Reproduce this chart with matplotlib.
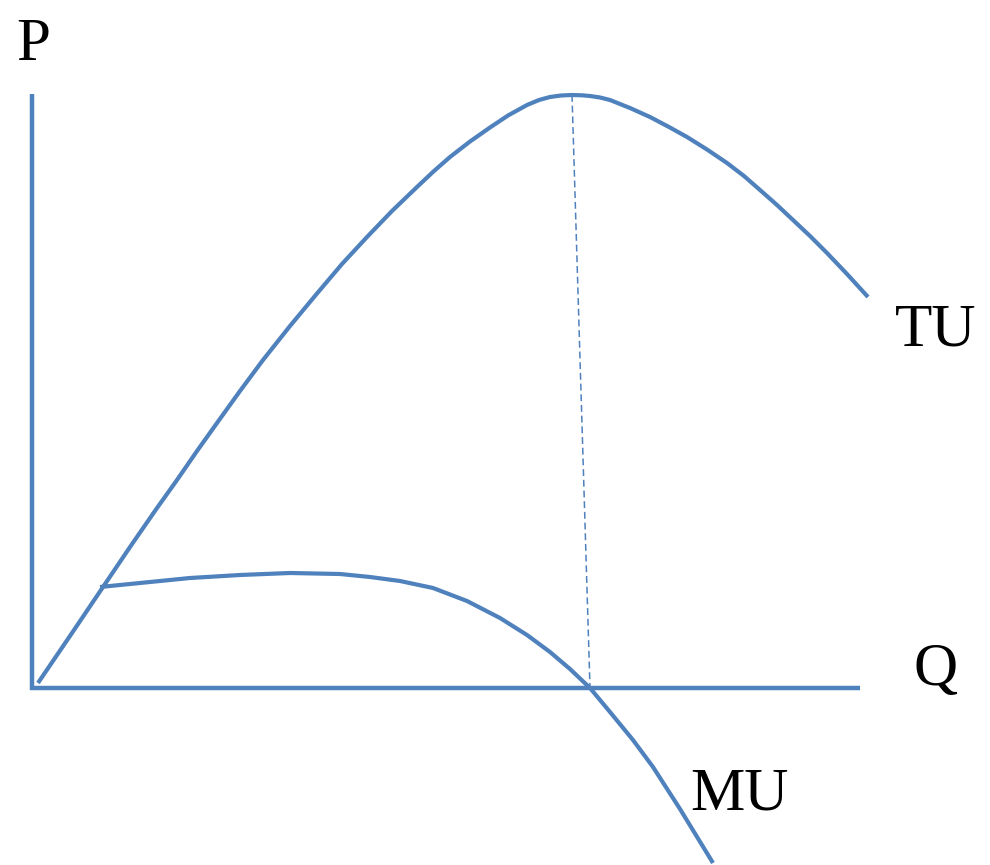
import numpy as np
import matplotlib.pyplot as plt

# total utility curve, (quantity, utility) in pixel-sized units from the origin
tu_q = [6, 40, 71, 98, 125, 145, 165, 185, 208, 231, 258, 285, 310, 335,
        360, 385, 402, 418, 438, 458, 476, 495, 507, 518, 529, 540, 550,
        558, 568, 578, 598, 618, 637, 655, 675, 695, 712, 728, 745, 761,
        778, 795, 815, 836]
tu_u = [5, 55, 101, 141, 180, 208, 237, 265, 297, 328, 362, 394.5, 424, 451,
        477, 501, 517, 531, 546.5, 560.5, 572.5, 583, 588, 591, 592.5, 593,
        592.7, 592, 590.5, 588, 580, 571, 561, 551, 538.5, 525, 512, 498,
        483, 468, 452, 435, 414, 391]

# marginal utility curve
mu_q = [68, 118, 158, 208, 258, 308, 338, 368, 401, 435, 468, 495, 518,
        538, 558, 578, 601, 621, 648, 681]
mu_u = [101, 106, 110, 113, 115, 114, 111, 107, 100, 87, 70, 53, 36,
        19, 0, -24, -52, -79, -121, -175]

# axis extents
q_axis_end = 828
u_axis_top = 594

blue = '#4F81BD'

fig = plt.figure(figsize=(9.9, 8.65), dpi=100)
ax = fig.add_axes([0, 0, 1, 1])
ax.set_xlim(-32, 958)
ax.set_ylim(-177, 688)
ax.axis('off')

# axes drawn as one L-shaped line
ax.plot([0, 0, q_axis_end], [u_axis_top, 0, 0], color=blue, lw=3.2,
        solid_joinstyle='miter', solid_capstyle='butt')

ax.plot(tu_q, tu_u, color=blue, lw=3.0, solid_capstyle='butt',
        solid_joinstyle='round')
ax.plot(mu_q, mu_u, color=blue, lw=3.0, solid_capstyle='butt',
        solid_joinstyle='round')

# dashed link from the TU maximum down to where MU crosses zero
peak = int(np.argmax(tu_u))
zero = mu_u.index(0)
ax.plot([tu_q[peak], mu_q[zero]], [tu_u[peak], mu_u[zero]], color=blue,
        lw=1.1, dashes=(4.5, 2.5))

font = dict(family='Liberation Serif', fontsize=44, color='black',
            ha='left', va='baseline')
ax.text(-16, 628, 'P', **font)
ax.text(881, 3, 'Q', **font)
ax.text(863, 343, 'TU', **font)
ax.text(658, -122, 'MU', **font)

fig.savefig('out.png', dpi=100)
